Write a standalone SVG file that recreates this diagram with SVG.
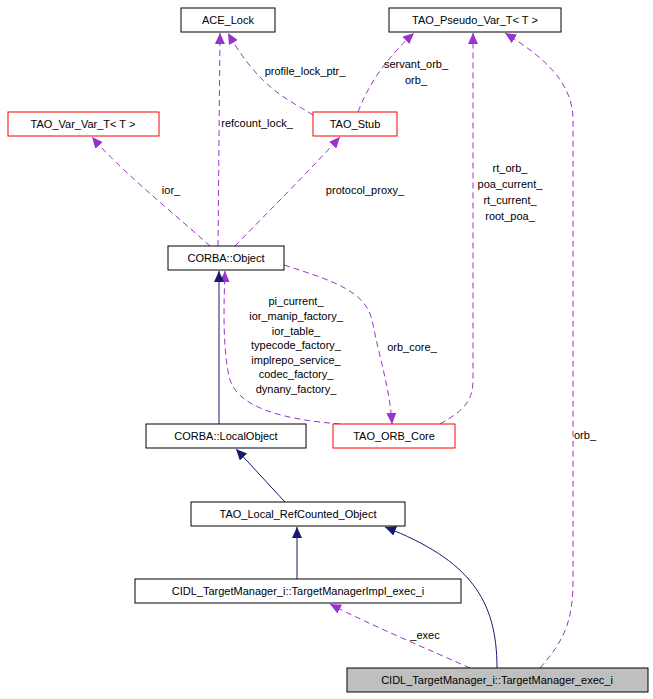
<svg xmlns="http://www.w3.org/2000/svg" width="653" height="699" viewBox="0 0 653 699">
<defs>
<style>
.n rect{fill:#fff;stroke:#000;stroke-width:1}
.n.r rect{stroke:#f00}
.n.g rect{fill:#bfbfbf}
text{font-family:"Liberation Sans",Arial,sans-serif;font-size:11px;text-anchor:middle;fill:#000}
.u{fill:none;stroke:#9a32cd;stroke-dasharray:6,4}
.i{fill:none;stroke:#191970}
</style>
<marker id="ap" markerWidth="12" markerHeight="10" refX="11" refY="5" orient="auto" markerUnits="userSpaceOnUse"><path d="M0,0 L11,5 L0,10 z" fill="#9a32cd"/></marker>
<marker id="ab" markerWidth="12" markerHeight="10" refX="11" refY="5" orient="auto" markerUnits="userSpaceOnUse"><path d="M0,0 L11,5 L0,10 z" fill="#191970"/></marker>
</defs>
<rect width="653" height="699" fill="#fff"/>
<g id="edges">
<path class="u" marker-end="url(#ap)" d="M218,246 L220,33"/>
<text x="257" y="127">refcount_lock_</text>
<path class="u" marker-end="url(#ap)" d="M313,115 C290,100 260,90 228,33"/>
<text x="305" y="75">profile_lock_ptr_</text>
<path class="u" marker-end="url(#ap)" d="M358,112 C370,80 390,55 414,33"/>
<text x="416" y="68">servant_orb_</text><text x="416" y="84">orb_</text>
<path class="u" marker-end="url(#ap)" d="M210,246 C170,210 120,170 92,137"/>
<text x="171" y="194">ior_</text>
<path class="u" marker-end="url(#ap)" d="M235,246 C270,210 310,170 340,137"/>
<text x="365" y="194">protocol_proxy_</text>
<path class="u" marker-end="url(#ap)" d="M440,424 C465,410 473,400 473,380 L473,33"/>
<text x="510" y="172">rt_orb_</text><text x="510" y="188">poa_current_</text><text x="510" y="204">rt_current_</text><text x="510" y="220">root_poa_</text>
<path class="u" marker-end="url(#ap)" d="M540,668 C565,640 573,620 573,580 L573,120 C573,80 540,55 505,33"/>
<text x="585" y="439">orb_</text>
<path class="u" marker-end="url(#ap)" d="M284,265 C330,280 365,290 372,320 C380,360 390,390 392,424"/>
<text x="412" y="351">orb_core_</text>
<path class="u" marker-end="url(#ap)" d="M340,424 C290,420 240,410 230,380 C222,350 224,300 225,271"/>
<text x="296" y="305">pi_current_</text><text x="296" y="320">ior_manip_factory_</text><text x="296" y="335">ior_table_</text><text x="296" y="349">typecode_factory_</text><text x="296" y="364">implrepo_service_</text><text x="296" y="378">codec_factory_</text><text x="296" y="393">dynany_factory_</text>
<path class="i" marker-end="url(#ab)" d="M219,424 L219,271"/>
<path class="i" marker-end="url(#ab)" d="M285,502 L236,449"/>
<path class="i" marker-end="url(#ab)" d="M297,579 L297,527"/>
<path class="i" marker-end="url(#ab)" d="M497,668 C497,600 470,560 385,527"/>
<path class="u" marker-end="url(#ap)" d="M470,668 C430,650 370,625 330,604"/>
<text x="425" y="639">_exec</text>
</g>
<g id="ACE_Lock" class="n"><rect x="181" y="8" width="94" height="24"/><text x="228" y="24">ACE_Lock</text></g>
<g id="TAO_Pseudo_Var_T" class="n"><rect x="389" y="8" width="172" height="24"/><text x="475" y="24">TAO_Pseudo_Var_T&lt; T &gt;</text></g>
<g id="TAO_Var_Var_T" class="n r"><rect x="8" y="112" width="151" height="24"/><text x="83" y="128">TAO_Var_Var_T&lt; T &gt;</text></g>
<g id="TAO_Stub" class="n r"><rect x="313" y="112" width="84" height="24"/><text x="355" y="128">TAO_Stub</text></g>
<g id="CORBA_Object" class="n"><rect x="168" y="246" width="116" height="24"/><text x="226" y="262">CORBA::Object</text></g>
<g id="CORBA_LocalObject" class="n"><rect x="146" y="424" width="160" height="24"/><text x="226" y="440">CORBA::LocalObject</text></g>
<g id="TAO_ORB_Core" class="n r"><rect x="333" y="424" width="122" height="24"/><text x="394" y="440">TAO_ORB_Core</text></g>
<g id="TAO_Local_RefCounted_Object" class="n"><rect x="191" y="502" width="214" height="24"/><text x="298" y="518">TAO_Local_RefCounted_Object</text></g>
<g id="TargetManagerImpl_exec_i" class="n"><rect x="135" y="579" width="326" height="24"/><text x="298" y="595">CIDL_TargetManager_i::TargetManagerImpl_exec_i</text></g>
<g id="TargetManager_exec_i" class="n g"><rect x="347" y="668" width="301" height="24"/><text x="497" y="684">CIDL_TargetManager_i::TargetManager_exec_i</text></g>
</svg>
